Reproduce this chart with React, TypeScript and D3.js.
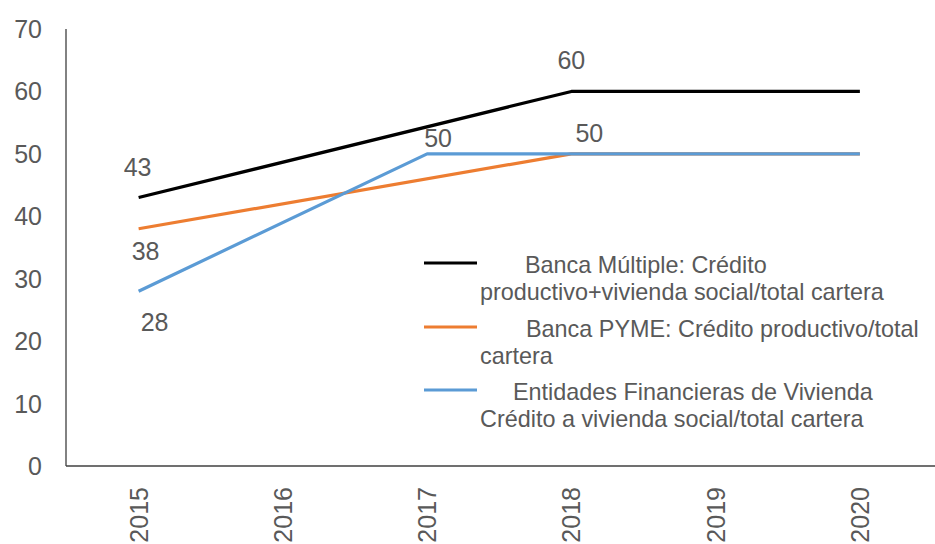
import React from "react";
import * as d3 from "d3";

const W = 935;
const H = 544;

const years = ["2015", "2016", "2017", "2018", "2019", "2020"];
const bancaMultiple: (number | null)[] = [43, null, null, 60, 60, 60];
const bancaPyme: (number | null)[] = [38, null, null, 50, 50, 50];
const entidadesVivienda: (number | null)[] = [28, null, 50, 50, 50, 50];
const yTicks = [0, 10, 20, 30, 40, 50, 60, 70];

const seriesNames = [
  ["Banca Múltiple: Crédito", "productivo+vivienda social/total cartera"],
  ["Banca PYME: Crédito productivo/total", "cartera"],
  ["Entidades Financieras de Vivienda", "Crédito a vivienda social/total cartera"],
];
const seriesColors = ["#000000", "#ED7D31", "#5B9BD5"];
const seriesData = [bancaMultiple, bancaPyme, entidadesVivienda];

// data labels: [series index, year index, dx, dy]
const dataLabels: [number, number, number, number][] = [
  [0, 0, -1, -31],
  [0, 3, 0, -31],
  [1, 0, 7, 22],
  [2, 0, 16, 31],
  [2, 2, 11, -16],
  [1, 3, 18, -21],
];

const TEXT = "#595959";
const FONT = "'Liberation Sans', Arial, sans-serif";

export default function App() {
  const x = d3.scalePoint<string>().domain(years).range([66.5, 932]).padding(0.5);
  const y = d3.scaleLinear().domain([0, 70]).range([466, 29]);

  const line = d3
    .line<{ yr: string; v: number }>()
    .x((d) => x(d.yr) as number)
    .y((d) => y(d.v));

  const legendY = [263, 327, 390];
  const legendFirstX = [525, 526, 513];

  return (
    <svg
      width={W}
      height={H}
      style={{ position: "absolute", left: 0, top: 0, background: "#fff" }}
      fontFamily={FONT}
    >
      <rect width={W} height={H} fill="#fff" />
      {/* axes */}
      <line x1={66} x2={66} y1={y(70)} y2={y(0)} stroke={TEXT} strokeWidth={1.5} />
      <line x1={66} x2={935} y1={y(0)} y2={y(0)} stroke="#404040" strokeWidth={1.5} />
      {yTicks.map((t) => (
        <text
          key={t}
          x={42}
          y={y(t)}
          textAnchor="end"
          dominantBaseline="central"
          fontSize={25}
          fill={TEXT}
        >
          {t}
        </text>
      ))}
      {years.map((yr) => (
        <text
          key={yr}
          transform={`translate(${x(yr)},${487}) rotate(-90)`}
          textAnchor="end"
          dominantBaseline="central"
          fontSize={25}
          fill={TEXT}
        >
          {yr}
        </text>
      ))}
      {/* series */}
      {seriesData.map((s, i) => {
        const pts = years
          .map((yr, j) => ({ yr, v: s[j] }))
          .filter((d) => d.v !== null) as { yr: string; v: number }[];
        return (
          <path
            key={i}
            d={line(pts) || ""}
            fill="none"
            stroke={seriesColors[i]}
            strokeWidth={3.2}
            strokeLinejoin="round"
          />
        );
      })}
      {/* data labels */}
      {dataLabels.map(([si, yi, dx, dy], k) => {
        const v = seriesData[si][yi] as number;
        return (
          <text
            key={k}
            x={(x(years[yi]) as number) + dx}
            y={y(v) + dy}
            textAnchor="middle"
            dominantBaseline="central"
            fontSize={25}
            fill={TEXT}
          >
            {v}
          </text>
        );
      })}
      {/* legend */}
      {seriesNames.map((nm, i) => (
        <g key={i}>
          <line
            x1={424}
            x2={477}
            y1={legendY[i]}
            y2={legendY[i]}
            stroke={seriesColors[i]}
            strokeWidth={3.2}
          />
          <text x={legendFirstX[i]} y={legendY[i] + 2} dominantBaseline="central" fontSize={23.4} fill={TEXT}>
            {nm[0]}
          </text>
          <text x={480} y={legendY[i] + 29} dominantBaseline="central" fontSize={23.4} fill={TEXT}>
            {nm[1]}
          </text>
        </g>
      ))}
    </svg>
  );
}
